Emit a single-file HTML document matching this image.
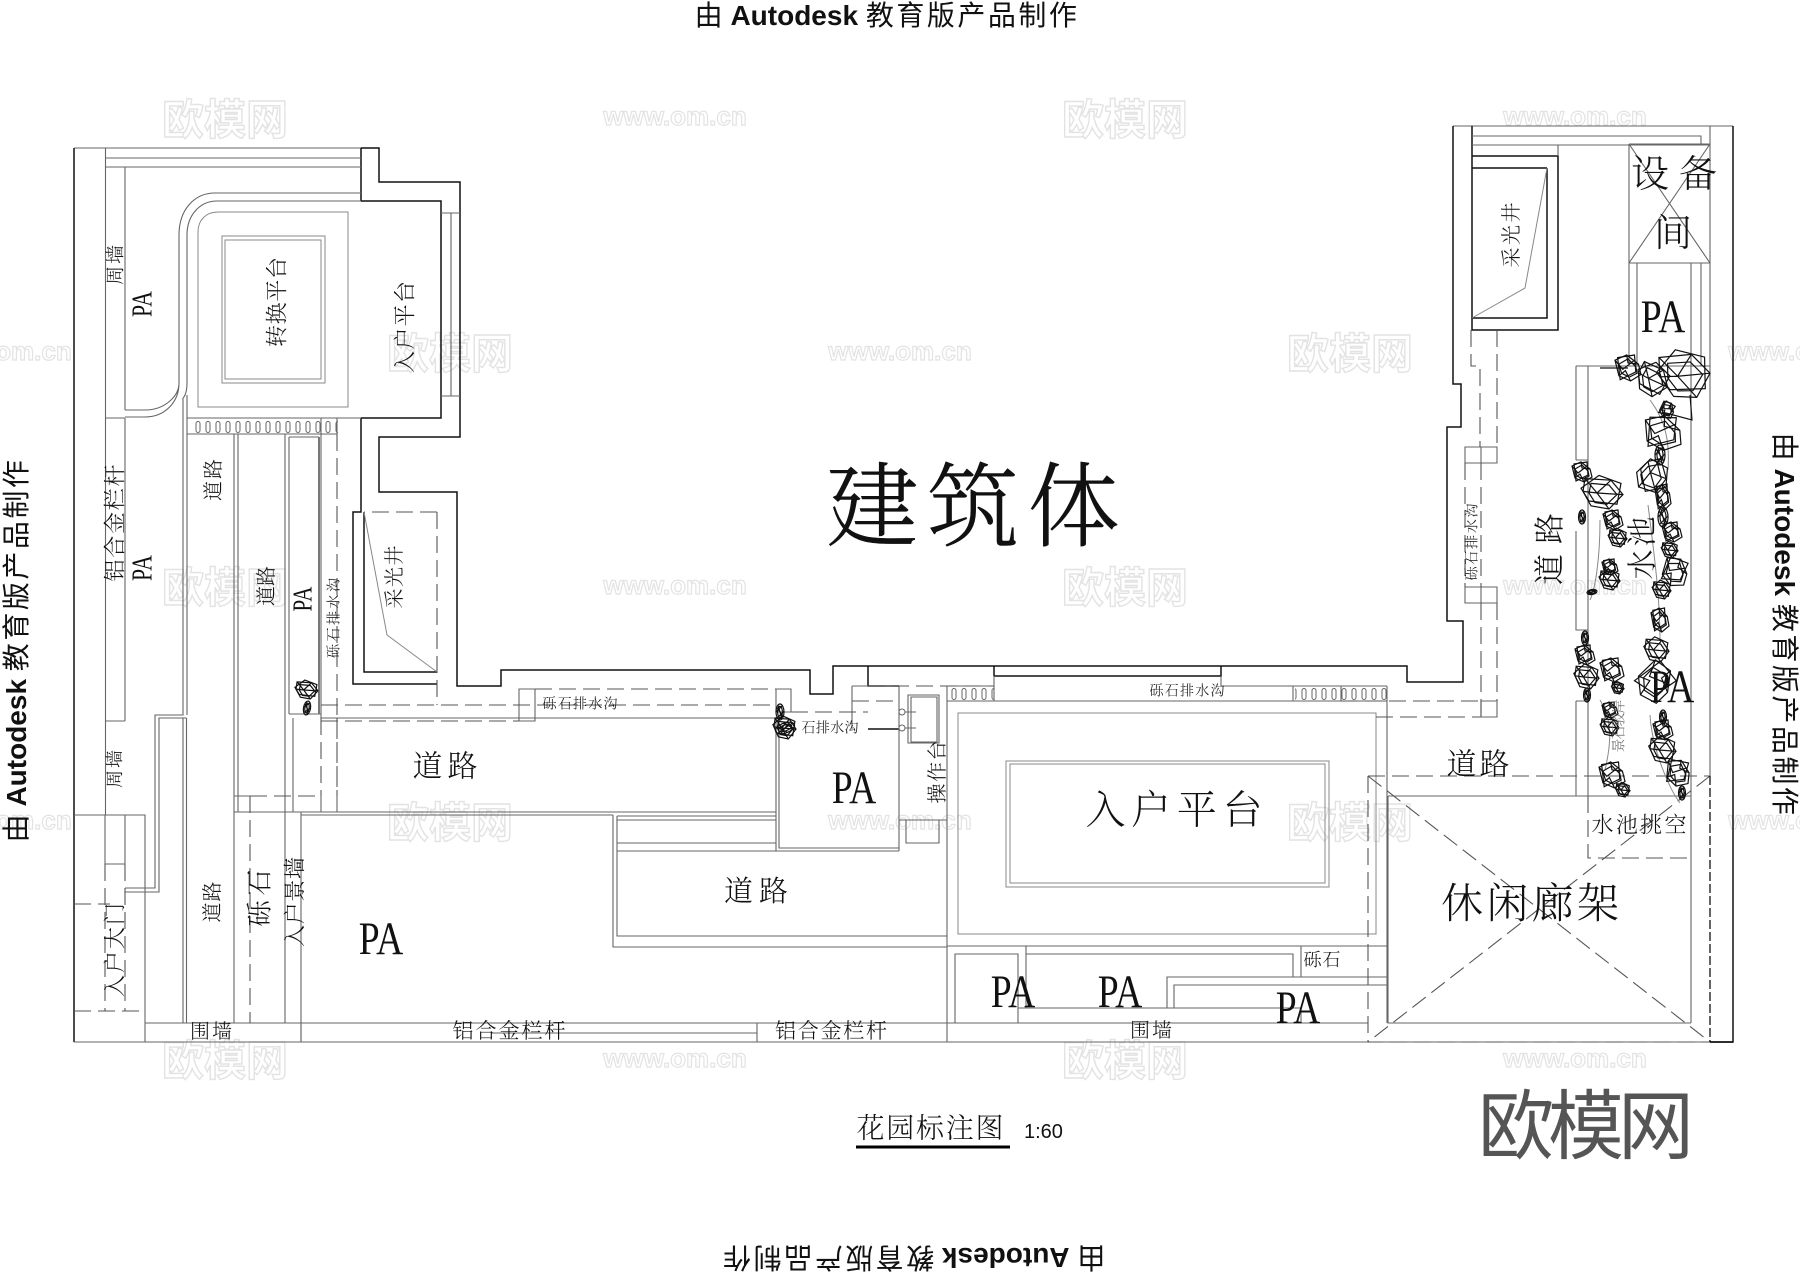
<!DOCTYPE html>
<html><head><meta charset="utf-8"><style>
html,body{margin:0;padding:0;background:#fff}
svg{display:block}
.k{fill:none;stroke:#111;stroke-width:1.5}
.g{fill:none;stroke:#666;stroke-width:1.1}
.h{fill:none;stroke:#888;stroke-width:1}
.d{fill:none;stroke:#555;stroke-width:1.1;stroke-dasharray:17 7}
.dk{fill:none;stroke:#111;stroke-width:1.3;stroke-dasharray:9 3}
.t{font-family:"Liberation Serif","Noto Serif CJK SC",serif;font-weight:300;fill:#111;text-anchor:middle;dominant-baseline:central}
.p{font-family:"Liberation Serif",serif;fill:#111;text-anchor:middle;dominant-baseline:central}
.s{font-family:"Liberation Sans","Noto Sans CJK SC",sans-serif;fill:#111}
.w1{font-family:"Noto Sans CJK SC",sans-serif;font-size:42px;font-weight:700;fill:#fff;stroke:#e3e3e3;stroke-width:1.4;text-anchor:middle;dominant-baseline:central}
.w2{font-family:"Liberation Sans",sans-serif;font-size:26px;font-weight:700;fill:#fff;stroke:#e3e3e3;stroke-width:1.2;text-anchor:middle;dominant-baseline:central}
.r{fill:none;stroke:#111;stroke-width:1.2;vector-effect:non-scaling-stroke}
</style></head><body>
<svg width="1800" height="1273" viewBox="0 0 1800 1273" xmlns="http://www.w3.org/2000/svg">
<defs>
<pattern id="lad" patternUnits="userSpaceOnUse" x="193" y="421" width="10" height="12"><rect x="3" y="0.5" width="4" height="11" rx="2" fill="none" stroke="#666"/></pattern>
<pattern id="lad2" patternUnits="userSpaceOnUse" x="949" y="688" width="10" height="12"><rect x="3" y="0.5" width="4" height="11" rx="2" fill="none" stroke="#666"/></pattern>
<g id="r1"><path class="r" d="M-10-6L-1-10 8-3 10 5 2 10-7 6Z"/><path class="r" d="M-7-3L0-7 6-1 7 4 1 7-5 4Z"/><path class="r" d="M-1-10L0-4 8-3M-7 6L-2 2 2 10M-10-6L-4 1 5-6"/><path class="r" d="M-8-8L5-10 6 3-6 9Z"/></g>
<g id="r2"><path class="r" d="M-9-9L4-8 10 1 3 10-6 8-10-1Z"/><path class="r" d="M-6-6L3-5 7 1 2 7-4 6-7 0Z"/><path class="r" d="M-9-9L-3 0 3 10M4-8L-3 0-10-1M10 1L-3 0"/><path class="r" d="M-11-3L-2-11 9-6 7 7-7 5Z"/></g>
<g id="r3"><ellipse class="r" cx="0" cy="0" rx="5" ry="10"/><ellipse class="r" cx="0" cy="0" rx="3" ry="7"/><path class="r" d="M-4-6L4 6M-5 0L3-8M-3 7L5-1M-2-8L2 8"/></g>
</defs>

<!-- watermarks -->
<g class="w1"><text x="225" y="117">欧模网</text><text x="1125" y="117">欧模网</text><text x="450" y="351">欧模网</text><text x="1350" y="351">欧模网</text><text x="225" y="585">欧模网</text><text x="1125" y="585">欧模网</text><text x="450" y="820">欧模网</text><text x="1350" y="820">欧模网</text><text x="225" y="1058">欧模网</text><text x="1125" y="1058">欧模网</text></g>
<g class="w2"><text x="675" y="116">www.om.cn</text><text x="1575" y="116">www.om.cn</text><text x="0" y="351">www.om.cn</text><text x="900" y="351">www.om.cn</text><text x="1800" y="351">www.om.cn</text><text x="675" y="585">www.om.cn</text><text x="1575" y="585">www.om.cn</text><text x="0" y="820">www.om.cn</text><text x="900" y="820">www.om.cn</text><text x="1800" y="820">www.om.cn</text><text x="675" y="1058">www.om.cn</text><text x="1575" y="1058">www.om.cn</text></g>

<!-- black walls -->
<path class="g" d="M74 148H361M1453 126H1733"/>
<path class="k" d="M74 148V1042M361 148H379V182H460V437H379V492H457V686H501V670H810V694H833V666H1407V682H1463V621H1447V427H1461V384H1453V126M1733 126V1042H1710"/>
<path class="k" d="M361 148V201M361 201H441V418H361M361 418V512H353V684H437M364 512V672H437"/>
<path class="k" d="M1472 126V330H1558V156H1472M1547 168V318H1472M1547 168H1472"/>
<path class="k" d="M994 676H1221V666M868 666V686H899M868 729H899M994 666V676"/>

<!-- gray lines left -->
<path class="g" d="M106 158H361M106 167H361M105.500 148V815M125 167V410M125 418V721M105 721H125M105 418H125M105 815V864M125 815V864M105 864H125"/>
<path class="g" d="M361 193H215C195 193 179 209 179 235V383C179 402 165 417 145 417H125M361 201H217C200 201 187 215 187 235V383C187 395 183 398 183 398M125 410H145C165 410 179 396 179 383"/>
<path class="h" d="M218 212H348V407H198V232C198 220 206 212 218 212Z"/>
<path class="h" d="M222 236H325V383H222Z"/><path class="h" d="M225 240H321V379H225Z"/>
<path class="g" d="M187 395V715M183 398V715H155V888H125M186.500 718H159V892H125M183 718V1023M186.500 718V1023"/>
<path class="g" d="M74 815H145V1042M441 213H460M441 396H460M451 213V396"/>
<path class="g" d="M187 418H361M187 434H337M337 418V434M234 434V1023M238 434V812M285 434V1023M289 437V714M285 434H289M289 437H319M321 418V714M289 714H321"/>
<path d="M319 437V714" fill="none" stroke="#777" stroke-width="2"/>
<path class="g" d="M293 718V812M321 714V718H776M301 812V1042M234 812H776M301 815H613M613 815V947H947M617 816V936H947M617 816H776M617 820H776M617 843H776M617 851H899M234 796H250M321 796V812M337 796V812"/>
<path class="g" d="M519 689H535V721H519ZM776 689H791V712H776ZM776 717V851M779 720V848H899M899 686V851M852 686V729M852 686H899"/>
<path class="g" d="M145 1023H1368M74 1042H1710M491 1033H680M680 1033H757M757 1023V1042M301 1023V1042"/>
<path class="h" d="M364 512L387 635L437 672"/>
<path class="d" d="M337 434V796M437 512H364M437 512V705M321 705H776M321 721H519M535 689H776M250 796V1023M250 796H321M321 718V796M337 718V796M791 712H868M852 701H899M74 1011H145M74 904H110M105 864V1011M125 864V1011"/>

<!-- sink -->
<path class="g" d="M908 695H939V743H908ZM911 697H937V742H911ZM899 820H947M906 820V843H939V820M900 712H916M900 728H916"/>
<circle cx="902" cy="712" r="3" fill="#fff" stroke="#666"/><circle cx="902" cy="728" r="3" fill="#fff" stroke="#666"/>

<!-- ladders -->
<rect x="193" y="421" width="145" height="12" fill="url(#lad)"/>
<rect x="949" y="688" width="45" height="12" fill="url(#lad2)"/>
<rect x="1295" y="688" width="92" height="12" fill="url(#lad2)"/>

<!-- entry platform -->
<path class="g" d="M947 686H994M994 676V701M947 701H1387M1221 676V686H1387M1293 686V701M1341 686V701M1387 686V1023M947 946H1388M947 686V1042"/>
<path class="d" d="M868 686H994"/>
<path class="h" d="M958 713H1376V934H958Z"/><path class="h" d="M1006 761H1329V887H1006Z"/><path class="h" d="M1010 764H1325V883H1010Z"/>
<path class="g" d="M955 1023V954H1018V1023M1026 946V1008M1026 954H1293V977M1301 946V977M1167 1008V977H1388M1174 1008V985H1388M1018 1008H1301V1023"/>

<!-- right side -->
<path class="g" d="M1472 136H1701V145M1472 145H1710M1558 145V156M1710 126V776"/>
<path class="g" d="M1629 144V366M1629 263H1710M1629 144H1710M1629 144L1710 263M1710 144L1629 263M1637 263V366M1691 263V1023M1701 263V366M1576 366H1710M1576 366V460M1588 366V796M1576 460H1588M1576 531V630H1588M1576 701H1588M1576 701V796M1388 796H1691M1388 796V1023H1691"/>
<path class="h" d="M1547 168L1525 288L1472 318"/>
<path class="g" d="M1465 447H1497V463H1465ZM1465 587H1497V603H1465ZM1481 447V463M1481 587V603M1481 701H1497V717H1481V701"/>
<path class="d" d="M1471 330V366H1480V447M1497 330V447M1481 463V587M1465 463V587M1481 603V717M1497 603V701M1341 701H1481M1376 717H1481"/>
<path class="d" d="M1368 776H1710M1368 776V1042H1710M1368 776L1710 1042M1710 776L1368 1042M1588 796V858H1691"/>
<path class="dk" d="M1710 776V1042"/>
<path class="k" d="M1710 1042H1733"/>

<!-- pond arcs -->
<path class="h" d="M1650 400C1665 420 1670 440 1668 470M1648 505C1655 560 1660 600 1660 640M1600 520C1600 560 1595 590 1590 600M1600 700C1612 720 1612 740 1605 770M1650 715C1652 750 1670 790 1680 803"/>
<path class="r" d="M1600 368H1628M1690 395L1692 420L1662 412"/>

<!-- rocks -->
<g>
<use href="#r1" transform="translate(1628 368) scale(1.3)"/>
<use href="#r2" transform="translate(1653 380) scale(1.6) rotate(20)"/>
<use href="#r2" transform="translate(1685 375) scale(2.5,2.4) rotate(-10)"/>
<use href="#r1" transform="translate(1667 410) scale(.8) rotate(40)"/>
<use href="#r1" transform="translate(1663 433) scale(2,1.7) rotate(10)"/>
<use href="#r3" transform="translate(1660 455) scale(1)"/>
<use href="#r2" transform="translate(1652 477) scale(1.6) rotate(70)"/>
<use href="#r1" transform="translate(1663 497) scale(.8,1.3)"/>
<use href="#r3" transform="translate(1663 517) scale(1)"/>
<use href="#r1" transform="translate(1672 532) scale(1)"/>
<use href="#r2" transform="translate(1670 550) scale(.8)"/>
<use href="#r1" transform="translate(1675 572) scale(1.4) rotate(30)"/>
<use href="#r2" transform="translate(1662 590) scale(.9)"/>
<use href="#r1" transform="translate(1660 620) scale(.9,1.2)"/>
<use href="#r2" transform="translate(1657 650) scale(1.2)"/>
<use href="#r1" transform="translate(1655 682) scale(1.9) rotate(60)"/>
<use href="#r3" transform="translate(1663 717) scale(.7)"/>
<use href="#r1" transform="translate(1663 730) scale(1)"/>
<use href="#r2" transform="translate(1663 750) scale(1.3)"/>
<use href="#r1" transform="translate(1678 773) scale(1.3) rotate(20)"/>
<use href="#r3" transform="translate(1682 793) scale(.7)"/>
<use href="#r1" transform="translate(1582 472) scale(1)"/>
<use href="#r2" transform="translate(1603 493) scale(2,1.6)"/>
<use href="#r3" transform="translate(1582 517) scale(.7)"/>
<use href="#r1" transform="translate(1613 520) scale(1)"/>
<use href="#r2" transform="translate(1618 538) scale(.9)"/>
<use href="#r1" transform="translate(1610 567) scale(.8)"/>
<use href="#r2" transform="translate(1610 580) scale(1)"/>
<use href="#r3" transform="translate(1592 592) rotate(80) scale(.5)"/>
<use href="#r3" transform="translate(1585 638) scale(.7)"/>
<use href="#r1" transform="translate(1585 655) scale(1)"/>
<use href="#r2" transform="translate(1587 677) scale(1.2)"/>
<use href="#r1" transform="translate(1612 670) scale(1.2)"/>
<use href="#r3" transform="translate(1587 695) scale(.7)"/>
<use href="#r2" transform="translate(1618 688) scale(.6)"/>
<use href="#r1" transform="translate(1610 710) scale(.8)"/>
<use href="#r2" transform="translate(1610 727) scale(.9)"/>
<use href="#r1" transform="translate(1612 775) scale(1.3)"/>
<use href="#r2" transform="translate(1623 790) scale(.7)"/>
<use href="#r2" transform="translate(307 690) scale(1.1,.9)"/>
<use href="#r3" transform="translate(307 708) scale(.7) rotate(10)"/>
<use href="#r3" transform="translate(780 712) scale(.8)"/>
<use href="#r2" transform="translate(785 728) scale(1.1)"/>
<use href="#r3" transform="translate(785 728) rotate(70) scale(1)"/>
</g>

<!-- edge labels -->
<g class="s" font-size="28" text-anchor="middle">
<text x="887" y="25">由 <tspan font-weight="700">Autodesk</tspan> <tspan letter-spacing="2.500">教育版产品制作</tspan></text>
<text transform="translate(26 650) rotate(-90)">由 <tspan font-weight="700">Autodesk</tspan> <tspan letter-spacing="2.500">教育版产品制作</tspan></text>
<text transform="translate(1775 625) rotate(90)">由 <tspan font-weight="700">Autodesk</tspan> <tspan letter-spacing="2.500">教育版产品制作</tspan></text>
<text transform="translate(913 1248) rotate(180)">由 <tspan font-weight="700">Autodesk</tspan> <tspan letter-spacing="2.500">教育版产品制作</tspan></text>
</g>

<!-- labels -->
<g class="t" transform="translate(0 2)">
<text x="973" y="506" font-size="92" textLength="293" stroke="#111" stroke-width=".6">建筑体</text>
<text transform="translate(277 300) rotate(-90)" font-size="22" textLength="90">转换平台</text>
<text transform="translate(405 325) rotate(-90)" font-size="22" textLength="92">入户平台</text>
<text transform="translate(116 263) rotate(-90)" font-size="19" textLength="40">周墙</text>
<text transform="translate(115 521) rotate(-90)" font-size="22" textLength="117">铝合金栏杆</text>
<text transform="translate(214 478) rotate(-90)" font-size="20" textLength="42">道路</text>
<text transform="translate(267 584) rotate(-90)" font-size="20" textLength="40">道路</text>
<text transform="translate(335 616) rotate(-90)" font-size="14" textLength="80">砾石排水沟</text>
<text transform="translate(395 575) rotate(-90)" font-size="20" textLength="63">采光井</text>
<text transform="translate(115 767) rotate(-90)" font-size="18" textLength="38">周墙</text>
<text transform="translate(213 900) rotate(-90)" font-size="20" textLength="41">道路</text>
<text transform="translate(260 896) rotate(-90)" font-size="26" textLength="57">砾石</text>
<text transform="translate(295 900) rotate(-90)" font-size="22" textLength="90">入户景墙</text>
<text transform="translate(115 948) rotate(-90)" font-size="22" textLength="94">入户大门</text>
<text x="445" y="765" font-size="30" textLength="65">道路</text>
<text x="211" y="1030" font-size="20" textLength="42">围墙</text>
<text x="509" y="1029" font-size="21" textLength="113">铝合金栏杆</text>
<text x="831" y="1029" font-size="21" textLength="112">铝合金栏杆</text>
<text x="1151" y="1029" font-size="20" textLength="42">围墙</text>
<text x="756" y="890" font-size="29" textLength="64">道路</text>
<text transform="translate(938 770) rotate(-90)" font-size="20" textLength="63">操作台</text>
<text x="1174" y="808" font-size="40" textLength="177">入户平台</text>
<text x="1322" y="958" font-size="18" textLength="37">砾石</text>
<text x="1187" y="690" font-size="14" textLength="75">砾石排水沟</text>
<text x="580" y="703" font-size="14" textLength="75">砾石排水沟</text>
<text x="830" y="727" font-size="14" textLength="57">石排水沟</text>
<text x="1650" y="173" font-size="38">设</text>
<text x="1698" y="173" font-size="38">备</text>
<text x="1673" y="232" font-size="38">间</text>
<text transform="translate(1512 233) rotate(-90)" font-size="20" textLength="65">采光井</text>
<text transform="translate(1473 540) rotate(-90)" font-size="14" textLength="77">砾石排水沟</text>
<text transform="translate(1550 547) rotate(-90)" font-size="31" textLength="72">道路</text>
<text transform="translate(1643 546) rotate(-90)" font-size="30" textLength="63">水池</text>
<text transform="translate(1620 724) rotate(-90)" font-size="14" textLength="53" fill="#666">景石驳岸</text>
<text x="1478" y="763" font-size="30" textLength="63">道路</text>
<text x="1639" y="823" font-size="22" textLength="95">水池挑空</text>
<text x="1530" y="903" font-size="42" textLength="178">休闲廊架</text>
<text x="930" y="1127" font-size="28" textLength="147">花园标注图</text>
</g>
<g class="p">
<text transform="translate(143 304) rotate(-90) scale(.78 1)" font-size="28">PA</text>
<text transform="translate(143 568) rotate(-90) scale(.78 1)" font-size="28">PA</text>
<text transform="translate(303 599) rotate(-90) scale(.78 1)" font-size="27">PA</text>
<text transform="translate(381 939) scale(.8 1)" font-size="47">PA</text>
<text transform="translate(854 788) scale(.8 1)" font-size="47">PA</text>
<text transform="translate(1013 992) scale(.8 1)" font-size="47">PA</text>
<text transform="translate(1120 992) scale(.8 1)" font-size="47">PA</text>
<text transform="translate(1298 1008) scale(.8 1)" font-size="47">PA</text>
<text transform="translate(1663 317) scale(.8 1)" font-size="47">PA</text>
<text transform="translate(1672 687) scale(.8 1)" font-size="47">PA</text>
</g>
<rect x="856" y="1145.500" width="154" height="3" fill="#000"/>
<text class="s" x="1024" y="1138" font-size="20">1:60</text>
<text x="1586" y="1120" font-family="Noto Sans CJK SC,sans-serif" font-size="76" fill="#555" text-anchor="middle" dominant-baseline="central" textLength="216">欧模网</text>
</svg>
</body></html>
